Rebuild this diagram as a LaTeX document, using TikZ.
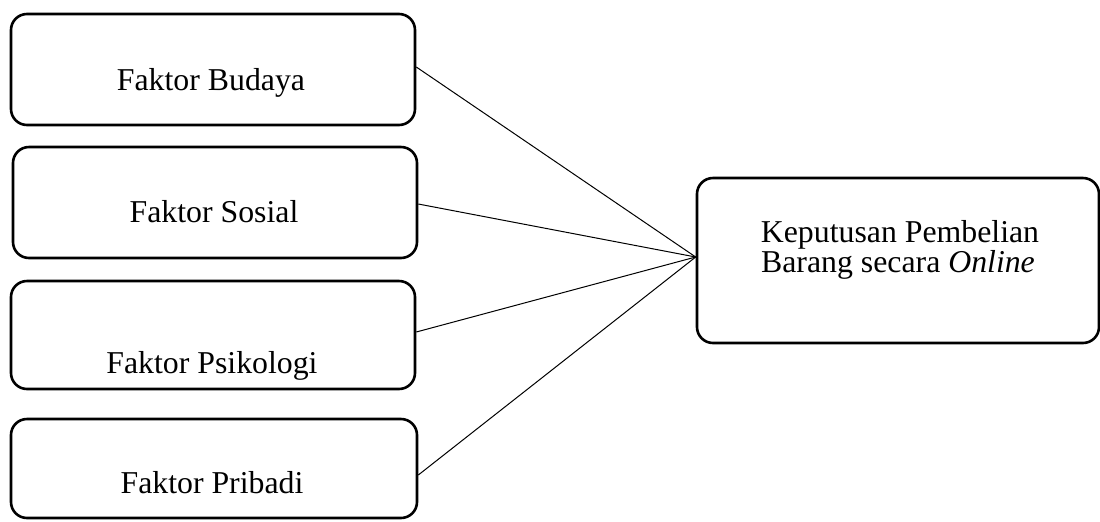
\documentclass[tikz,border=0pt]{standalone}
\usepackage{fontspec}
\setmainfont{Liberation Serif}
\begin{document}
\begin{tikzpicture}[x=0.5pt,y=-0.5pt,
  fbox/.style={draw=black, line width=1.3pt, rounded corners=8pt, inner sep=0pt},
  lbl/.style={anchor=base, inner sep=0pt, font=\fontsize{15.9}{15}\selectfont},
  conn/.style={draw=black, line width=0.5pt}]
\useasboundingbox (0,0) rectangle (1100,521);
\node[fbox, minimum width=202pt, minimum height=55.5pt] (b1) at (213,69.5) {};
\node[fbox, minimum width=202pt, minimum height=55.5pt] (b2) at (215,202.5) {};
\node[fbox, minimum width=202pt, minimum height=54pt] (b3) at (213,335) {};
\node[fbox, minimum width=203pt, minimum height=49.5pt] (b4) at (214,468.5) {};
\node[fbox, minimum width=201pt, minimum height=82.5pt] (r) at (898,260.5) {};
\node[lbl] (t1) at (211,90) {Faktor Budaya};
\node[lbl] (t2) at (214,222) {Faktor Sosial};
\node[lbl] (t3) at (212,373) {Faktor Psikologi};
\node[lbl] (t4) at (212,493) {Faktor Pribadi};
\node[lbl] (rt1) at (900,242) {Keputusan Pembelian};
\node[lbl] (rt2) at (898,272) {Barang secara \textit{Online}};
\coordinate (m) at ([yshift=1.75pt]r.west);
\draw[conn] ([yshift=1.25pt]b1.east) -- (m);
\draw[conn] ([yshift=-0.75pt]b2.east) -- (m);
\draw[conn] ([yshift=1.5pt]b3.east) -- (m);
\draw[conn] ([yshift=-3.25pt]b4.east) -- (m);
\end{tikzpicture}
\end{document}
